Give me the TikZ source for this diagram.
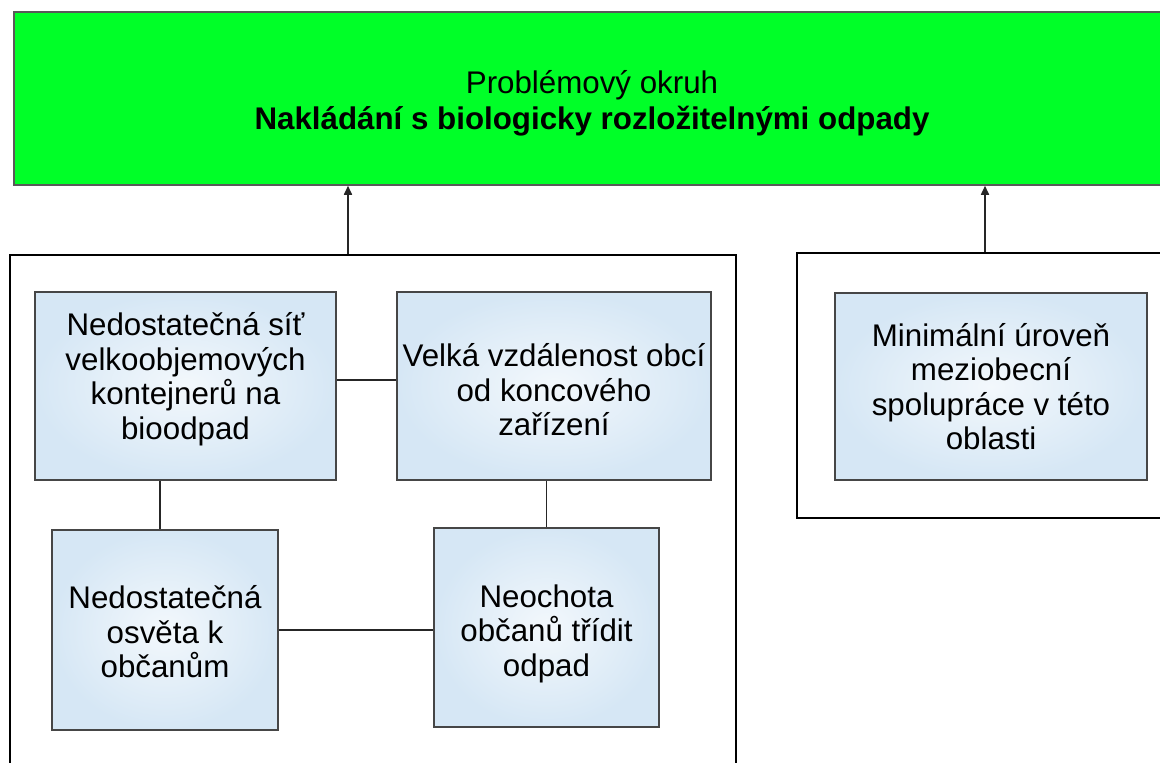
\documentclass[tikz,border=0pt]{standalone}
\usepackage{fontspec}
\setmainfont{Liberation Sans}
\usetikzlibrary{arrows.meta,calc}
\definecolor{titlegreen}{RGB}{0,255,40}
\definecolor{boxouter}{RGB}{214,231,245}
\definecolor{boxinner}{RGB}{243,248,252}
\definecolor{boxline}{RGB}{70,70,70}
\tikzset{
  causebox/.style={draw=boxline, line width=1.5pt, inner color=boxinner, outer color=boxouter, inner sep=0pt},
  causetext/.style={align=center, inner sep=0pt, font=\fontsize{31.3}{34.5}\selectfont},
  framebox/.style={draw=black, line width=2pt, inner sep=0pt},
  link/.style={draw=black!85, line width=1.6pt},
  uparrow/.style={draw=black!85, line width=1.6pt, -{Triangle[length=9pt,width=8pt]}}
}
\begin{document}
\begin{tikzpicture}[x=1pt,y=-1pt]
\useasboundingbox (0,0) rectangle (1160,763);
\clip (0,0) rectangle (1160,763);
% title
\node[draw=black!65, line width=1.5pt, fill=titlegreen, minimum width=1156pt, minimum height=173pt,
  inner sep=0pt] (G) at (592,98.5) {};
\node[align=center, inner sep=0pt, font=\fontsize{31.3}{36}\selectfont] (Gt) at ($(G.center)+(0,5)$)
  {Problémový okruh\\\textbf{Nakládání s biologicky rozložitelnými odpady}};
% frames
\node[framebox, minimum width=726pt, minimum height=545pt] (LF) at (373,527.5) {};
\node[framebox, minimum width=378pt, minimum height=265pt] (RF) at (986,385.5) {};
% cause boxes
\node[causebox, minimum width=301pt, minimum height=188pt] (A) at (185.5,386) {};
\node[causetext] (At) at ($(A.center)+(0,-7)$) {Nedostatečná síť\\velkoobjemových\\kontejnerů na\\bioodpad};
\node[causebox, minimum width=314pt, minimum height=188pt] (B) at (554,386) {};
\node[causetext] (Bt) at ($(B.center)+(0,4)$) {Velká vzdálenost obcí\\od koncového\\zařízení};
\node[causebox, minimum width=226pt, minimum height=200pt] (C) at (165,630) {};
\node[causetext] (Ct) at ($(C.center)+(0,2)$) {Nedostatečná\\osvěta k\\občanům};
\node[causebox, minimum width=225pt, minimum height=199pt] (D) at (546.5,627.5) {};
\node[causetext] (Dt) at ($(D.center)+(0,6)$) {Neochota\\občanů třídit\\odpad};
\node[causebox, minimum width=312pt, minimum height=187pt] (E) at (991,386.5) {};
\node[causetext] (Et) at (E.center) {Minimální úroveň\\meziobecní\\spolupráce v této\\oblasti};
% connectors
\draw[link] ($(A.east)+(0,-6)$) -- ($(B.west)+(0,-6)$);
\draw[link] (A.south -| 160,0) -- (C.north -| 160,0);
\draw[link] (B.south -| D.north) -- (D.north);
\draw[link] (C.east) -- (D.west |- C.east);
\draw[uparrow] (LF.north -| 348,0) -- (G.south -| 348,0);
\draw[uparrow] (RF.north -| 985,0) -- (G.south -| 985,0);
\end{tikzpicture}
\end{document}
